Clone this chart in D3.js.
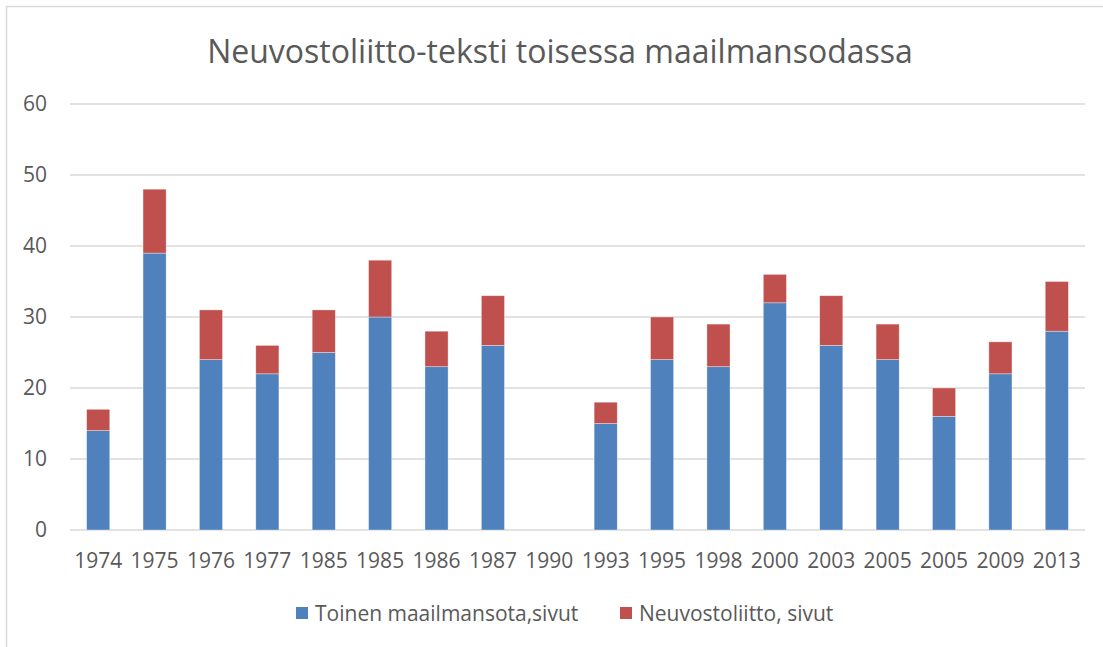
<!DOCTYPE html>
<html>
<head>
<meta charset="utf-8">
<script src="https://cdn.jsdelivr.net/npm/d3@7"></script>
<style>
  body { margin: 0; background: #fff; }
  text { font-family: "Open Sans", sans-serif; fill: #595959; }
</style>
</head>
<body>
<div id="chart"></div>
<script>
// Data
const years = ["1974", "1975", "1976", "1977", "1985", "1985", "1986", "1987", "1990",
               "1993", "1995", "1998", "2000", "2003", "2005", "2005", "2009", "2013"];
const toinenSivut = [14, 39, 24, 22, 25, 30, 23, 26, 0, 15, 24, 23, 32, 26, 24, 16, 22, 28];
const neuvostoSivut = [3, 9, 7, 4, 6, 8, 5, 7, 0, 3, 6, 6, 4, 7, 5, 4, 4.5, 7];
const yTicks = [0, 10, 20, 30, 40, 50, 60];
const seriesNames = ["Toinen maailmansota,sivut", "Neuvostoliitto, sivut"];
const colors = ["#4f81bd", "#c0504d"];

const W = 1103, H = 647;
const margin = { top: 104, right: 18, bottom: 117, left: 70 };
const width = W - margin.left - margin.right;
const height = H - margin.top - margin.bottom;

const root = d3.select("#chart").append("svg")
    .attr("width", W)
    .attr("height", H);

// chart frame (top + left only visible)
root.append("path")
    .attr("d", `M6.5,${H} V6.5 H${W}`)
    .attr("fill", "none")
    .attr("stroke", "#d9d9d9")
    .attr("stroke-width", 1.5);

root.append("text")
    .attr("x", 560)
    .attr("y", 63)
    .attr("text-anchor", "middle")
    .attr("font-size", "32px")
    .text("Neuvostoliitto-teksti toisessa maailmansodassa");

const svg = root.append("g")
    .attr("transform", `translate(${margin.left},${margin.top})`);

const x = d3.scaleBand()
    .domain(d3.range(years.length))
    .range([0, width])
    .paddingInner(0.59)
    .paddingOuter(0.295);

const y = d3.scaleLinear()
    .domain([0, 60])
    .range([height, 0]);

// grid
yTicks.forEach(t => {
    svg.append("line")
        .attr("x1", 0).attr("x2", width)
        .attr("y1", y(t)).attr("y2", y(t))
        .attr("stroke", "#d9d9d9")
        .attr("stroke-width", 1.3);
});

// stacked bars
const stackData = years.map((yr, i) => ({ i, a: toinenSivut[i], b: neuvostoSivut[i] }));
const stack = d3.stack().keys(["a", "b"])(stackData);

stack.forEach((layer, k) => {
    svg.append("g")
        .selectAll("rect")
        .data(layer)
        .join("rect")
        .attr("x", d => x(d.data.i))
        .attr("width", x.bandwidth())
        .attr("y", d => y(d[1]))
        .attr("height", d => y(d[0]) - y(d[1]))
        .attr("fill", colors[k])
        .attr("stroke", d => (d[1] - d[0]) > 0 ? "rgba(255,255,255,0.5)" : "none")
        .attr("stroke-width", 0.7);
});

// y axis labels
svg.append("g")
    .selectAll("text")
    .data(yTicks)
    .join("text")
    .attr("x", -23)
    .attr("y", d => y(d))
    .attr("dy", "0.35em")
    .attr("text-anchor", "end")
    .attr("font-size", "21px")
    .text(d => d);

// x axis labels
svg.append("g")
    .selectAll("text")
    .data(years)
    .join("text")
    .attr("x", (d, i) => x(i) + x.bandwidth() / 2)
    .attr("y", height + 38)
    .attr("text-anchor", "middle")
    .attr("font-size", "21px")
    .text(d => d);

// legend
const legendX = [296, 620];
seriesNames.forEach((name, k) => {
    const g = root.append("g").attr("transform", `translate(${legendX[k]},607)`);
    g.append("rect")
        .attr("width", 12).attr("height", 12)
        .attr("fill", colors[k]);
    g.append("text")
        .attr("x", 19)
        .attr("y", 14)
        .attr("font-size", "21px")
        .text(name);
});
</script>
</body>
</html>
